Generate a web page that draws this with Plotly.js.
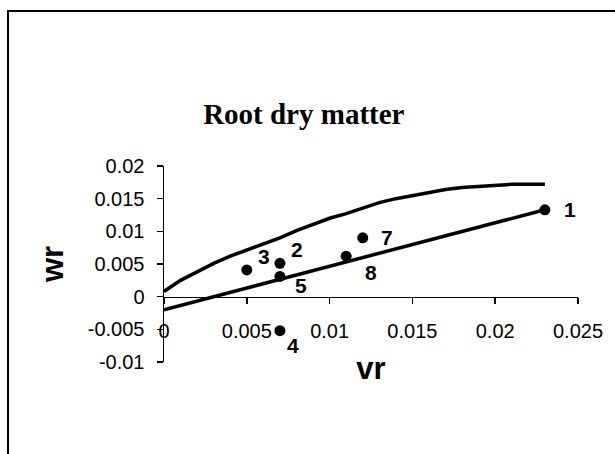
<!DOCTYPE html>
<html>
<head>
<meta charset="utf-8">
<script src="https://cdn.plot.ly/plotly-3.0.1.min.js"></script>
<style>html,body{margin:0;padding:0;background:#fff;}#chart{width:615px;height:454px;}</style>
</head>
<body>
<div id="chart"></div>
<script>
// Observed points (vr, wr) with their labels
const pointLabels = ["1", "2", "3", "4", "5", "7", "8"];
const pointVr = [0.023, 0.007, 0.005, 0.007, 0.007, 0.012, 0.011];
const pointWr = [0.0133, 0.0051, 0.0041, -0.0052, 0.0031, 0.0090, 0.0062];

// Lower straight line
const lineVr = [0, 0.023];
const lineWr = [-0.002, 0.0133];

// Upper limiting curve
const curveVr = [0, 0.001, 0.002, 0.003, 0.004, 0.005, 0.006, 0.007, 0.008, 0.009, 0.010, 0.011,
                 0.012, 0.013, 0.014, 0.015, 0.016, 0.017, 0.018, 0.019, 0.020, 0.021, 0.022, 0.023];
const curveWr = [0.0008, 0.0025, 0.0038, 0.0051, 0.0062, 0.0071, 0.0080, 0.0090, 0.0101, 0.0110, 0.0120, 0.0127,
                 0.0136, 0.0144, 0.0150, 0.0155, 0.0160, 0.0164, 0.0167, 0.0169, 0.0170, 0.0172, 0.0172, 0.0172];

// Ticks
const xTickVals = [0, 0.005, 0.01, 0.015, 0.02, 0.025];
const xTickText = ["0", "0.005", "0.01", "0.015", "0.02", "0.025"];
const yTickVals = [-0.01, -0.005, 0, 0.005, 0.01, 0.015, 0.02];
const yTickText = ["-0.01", "-0.005", "0", "0.005", "0.01", "0.015", "0.02"];

// Label offsets (pixels) relative to each point
const labelDx = [25, 17, 17, 13, 21, 24, 25];
const labelDy = [0, 14, 13, -15, -9, 0, -16];

const FONT = "Arial, 'Liberation Sans', sans-serif";

const traces = [
  {x: curveVr, y: curveWr, mode: "lines", line: {color: "#000", width: 3.5}, cliponaxis: false, hoverinfo: "skip"},
  {x: lineVr, y: lineWr, mode: "lines", line: {color: "#000", width: 3.5}, cliponaxis: false, hoverinfo: "skip"},
  {x: pointVr, y: pointWr, mode: "markers", marker: {color: "#000", size: 11}, cliponaxis: false}
];

const annotations = pointLabels.map((t, i) => ({
  x: pointVr[i], y: pointWr[i], xref: "x", yref: "y", text: "<b>" + t + "</b>",
  showarrow: false, xshift: labelDx[i], yshift: labelDy[i],
  font: {family: FONT, size: 21, color: "#000"}
}));

const layout = {
  width: 615, height: 454,
  margin: {l: 164, r: 37, t: 166, b: 92},
  paper_bgcolor: "#fff", plot_bgcolor: "#fff",
  showlegend: false,
  title: {
    text: "<b>Root dry matter</b>",
    font: {family: "'Liberation Serif', 'Times New Roman', serif", size: 29, color: "#000"},
    xref: "container", yref: "container", x: 0.494, y: 0.749, xanchor: "center", yanchor: "middle"
  },
  xaxis: {
    range: [0, 0.025], anchor: "free", position: 1/3,
    showline: true, linecolor: "#000", linewidth: 1.5,
    ticks: "outside", ticklen: 6, tickcolor: "#000", tickwidth: 1.5,
    tickmode: "array", tickvals: xTickVals, ticktext: xTickText,
    ticklabelstandoff: 10,
    showgrid: false, zeroline: false,
    tickfont: {family: FONT, size: 20, color: "#000"},
    title: {text: "<b>vr</b>", font: {family: FONT, size: 31, color: "#000"}, standoff: 16}
  },
  yaxis: {
    range: [-0.01, 0.02],
    showline: true, linecolor: "#000", linewidth: 1.5,
    ticks: "outside", ticklen: 6, tickcolor: "#000", tickwidth: 1.5,
    tickmode: "array", tickvals: yTickVals, ticktext: yTickText,
    ticklabelstandoff: 8,
    showgrid: false, zeroline: false,
    tickfont: {family: FONT, size: 20, color: "#000"},
    title: {text: "<b>wr</b>", font: {family: FONT, size: 31, color: "#000"}, standoff: 15}
  },
  shapes: [
    {type: "rect", xref: "paper", yref: "paper", x0: -0.3768, x1: 1.2, y0: -0.6, y1: 1.7908,
     line: {color: "#000", width: 2}, fillcolor: "rgba(0,0,0,0)", layer: "below"}
  ],
  annotations: annotations
};

Plotly.newPlot("chart", traces, layout, {displayModeBar: false, staticPlot: true});
</script>
</body>
</html>
